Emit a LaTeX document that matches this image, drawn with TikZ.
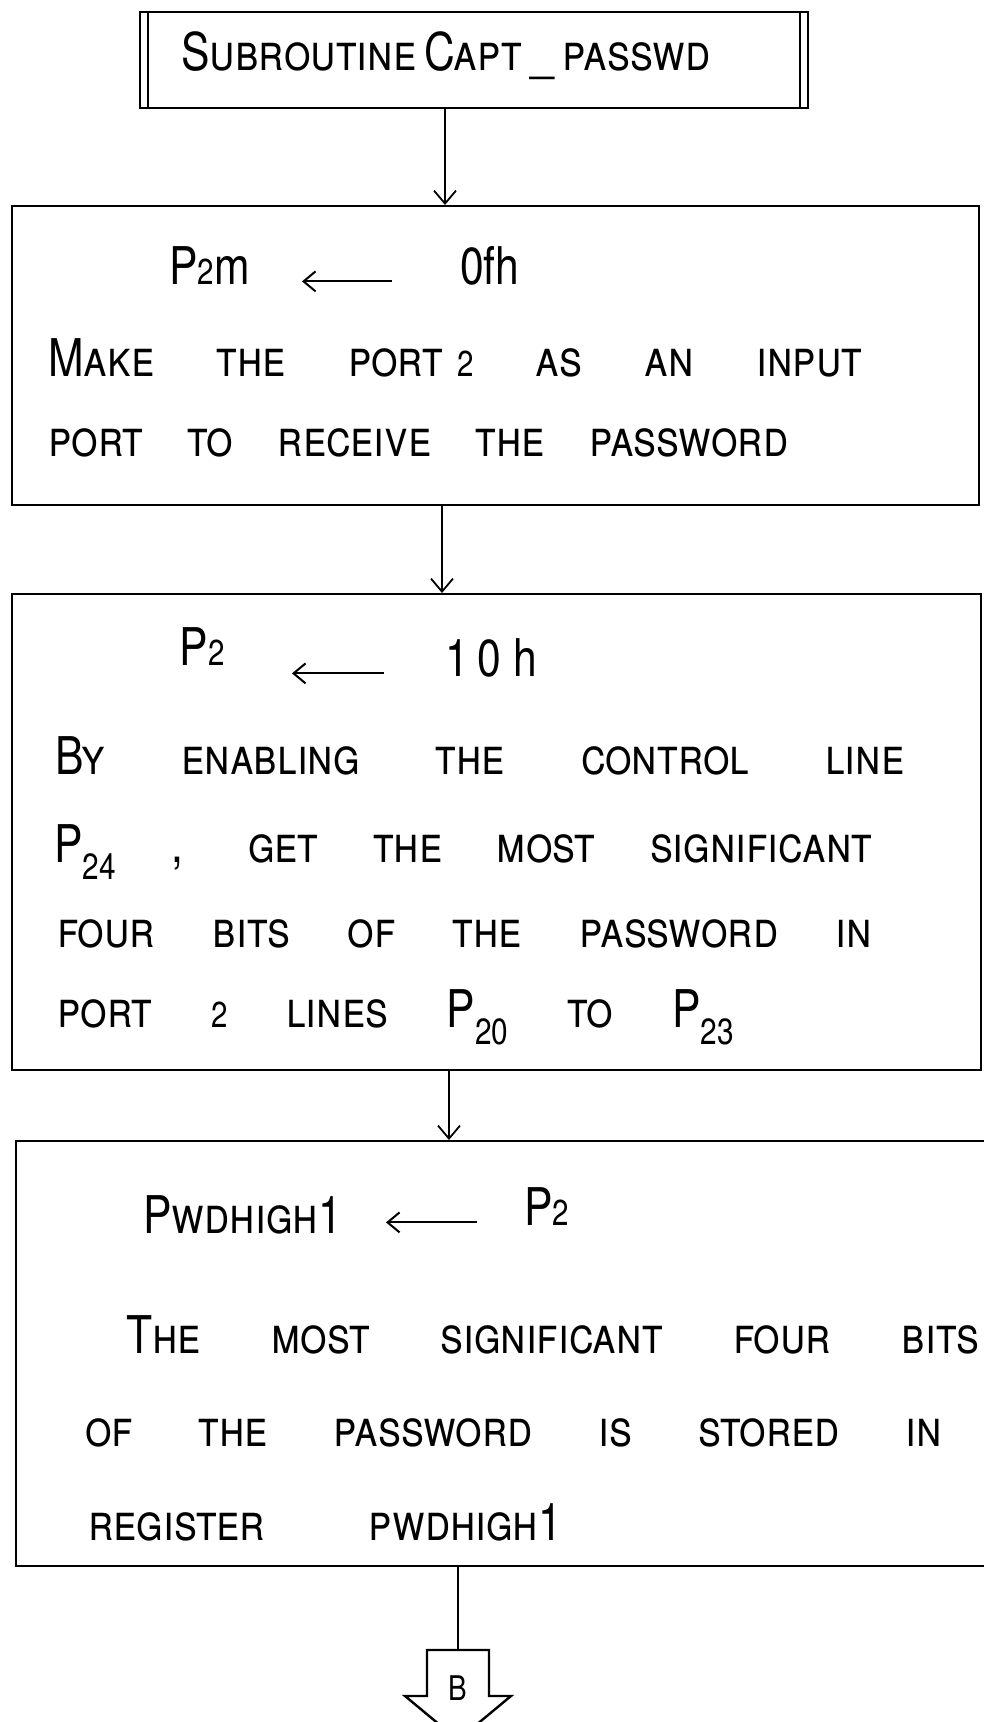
\documentclass[tikz,border=0pt]{standalone}
\usepackage{fontspec}
\setmainfont{TeX Gyre Heros}[FakeStretch=0.82]
\usetikzlibrary{calc, arrows.meta}
\tikzset{
  fc box/.style={draw, line width=2.2pt, inner sep=0, anchor=north west},
  fc edge/.style={line width=1.8pt, -{Straight Barb[length=13pt,width=22pt]}},
  fc link/.style={line width=2.8pt},
  fc assign/.style={line width=2pt, -{Straight Barb[length=12pt,width=20pt]}},
  fc conn/.style={line width=2.4pt, line join=miter},
  txt/.style={font=\fontsize{52}{58}\selectfont\scshape, inner sep=0, anchor=base west},
  txt lhs/.style={txt, anchor=base east},
  lbl off/.style={font=\fontsize{34}{36}\selectfont, inner sep=0}
}
\newcommand\fcline[2]{\makebox[#1][s]{#2}}
\newcommand\lo[1]{{\fontsize{36}{36}\selectfont #1}}

\begin{document}
\begin{tikzpicture}[x=1pt, y=-1pt]
\useasboundingbox (0,0) rectangle (984,1722);

\node[fc box, minimum width=668pt, minimum height=96pt] (b0) at (139,11) {};
\draw[line width=2.2pt] ([xshift=9pt]b0.north west) -- ([xshift=9pt]b0.south west);
\draw[line width=2.2pt] ([xshift=-9pt]b0.north east) -- ([xshift=-9pt]b0.south east);
\node[txt] (t0) at ($(b0.north west) + (42,59)$) {\fcline{522pt}{Subroutine Capt\,\_\,passwd}};

\node[fc box, minimum width=967pt, minimum height=299pt] (b1) at (11,205) {};
\node[txt lhs] (l1) at ($(b1.north west) + (239,79)$) {P\lo{2}\upshape m};
\node[txt] (r1) at ($(b1.north west) + (449,79)$) {\upshape 0fh};
\node[txt] (t1a) at ($(b1.north west) + (37,171)$) {\fcline{814pt}{Make the port\hspace{14pt}\lo{2} as an input}};
\node[txt] (t1b) at ($(b1.north west) + (37,251)$) {\fcline{740pt}{port to receive the password}};
\draw[fc assign] ($(r1.mid west) + (-68,0)$) -- ($(l1.mid east |- r1.mid west) + (52,0)$);

\node[fc box, minimum width=969pt, minimum height=476pt] (b2) at (11,593) {};
\node[txt lhs] (l2) at ($(b2.north west) + (214,72)$) {P\lo{2}};
\node[txt] (r2) at ($(b2.north west) + (434,83)$) {\upshape 1\,0\ h};
\node[txt] (t2a) at ($(b2.north west) + (44,181)$) {\fcline{849pt}{By enabling the control line}};
\node[txt] (t2b) at ($(b2.north west) + (43,269)$) {\fcline{818pt}{P\textsubscript{24} , get the most significant}};
\node[txt] (t2c) at ($(b2.north west) + (46,354)$) {\fcline{815pt}{four bits of the password in}};
\node[txt] (t2d) at ($(b2.north west) + (46,434)$) {\fcline{677pt}{port \lo{2} lines P\textsubscript{20} to P\textsubscript{23}}};
\draw[fc assign] ($(r2.mid west) + (-61,0)$) -- ($(l2.mid east |- r2.mid west) + (67,0)$);

\node[fc box, minimum width=980pt, minimum height=425pt] (b3) at (15,1140) {};
\node[txt lhs] (l3) at ($(b3.north west) + (327,93)$) {Pwdhigh1};
\node[txt] (r3) at ($(b3.north west) + (509,85)$) {P\lo{2}};
\node[txt] (t3a) at ($(b3.north west) + (111,213)$) {\fcline{853pt}{The most significant four bits}};
\node[txt] (t3b) at ($(b3.north west) + (70,306)$) {\fcline{857pt}{of the password is stored in}};
\node[txt] (t3c) at ($(b3.north west) + (73,400)$) {\fcline{474pt}{register pwdhigh1}};
\draw[fc assign] ($(r3.mid west) + (-47,0)$) -- ($(l3.mid east |- r3.mid west) + (44,0)$);

\node[lbl off] (nB) at (458,1688) {B};
\coordinate (cB) at ($(nB) + (0,-38)$);
\draw[fc conn] ($(nB) + (-31,-38)$) -- ($(nB) + (-31,8)$) -- ($(nB) + (-53,8)$) -- ($(nB) + (0,52)$)
  -- ($(nB) + (53,8)$) -- ($(nB) + (31,8)$) -- ($(nB) + (31,-38)$) -- cycle;

\coordinate (x1) at (445,0);
\coordinate (x2) at (442,0);
\coordinate (x3) at (449,0);
\draw[fc edge] (x1 |- b0.south) -- (x1 |- b1.north);
\draw[fc edge] (x2 |- b1.south) -- (x2 |- b2.north);
\draw[fc edge] (x3 |- b2.south) -- (x3 |- b3.north);
\draw[fc link] (cB |- b3.south) -- (cB);

\end{tikzpicture}
\end{document}
